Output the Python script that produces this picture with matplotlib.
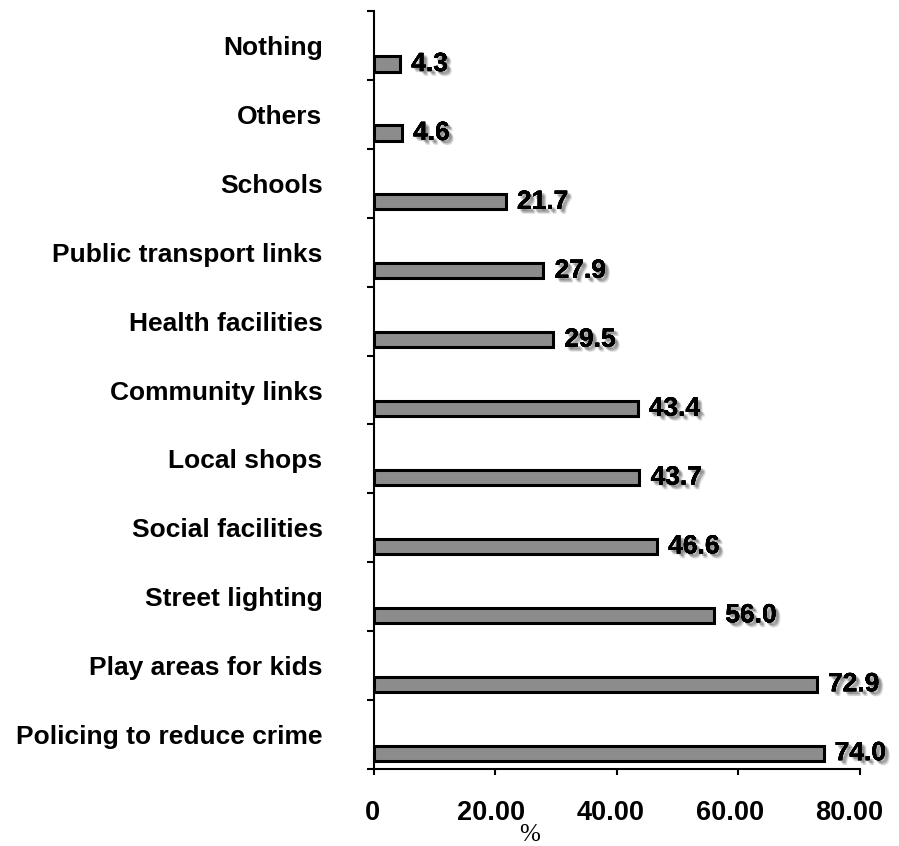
import numpy as np
import matplotlib
matplotlib.use("Agg")
import matplotlib.pyplot as plt
import matplotlib.patheffects as pe
from matplotlib.transforms import ScaledTranslation

# survey results, bottom to top
categories = ["Policing to reduce crime", "Play areas for kids", "Street lighting",
              "Social facilities", "Local shops", "Community links", "Health facilities",
              "Public transport links", "Schools", "Others", "Nothing"]
percent = [74.0, 72.9, 56.0, 46.6, 43.7, 43.4, 29.5, 27.9, 21.7, 4.6, 4.3]
x_ticks = [0, 20, 40, 60, 80]
x_tick_labels = ["0", "20.00", "40.00", "60.00", "80.00"]

plt.rcParams['font.family'] = ['Liberation Sans', 'DejaVu Sans']

fig = plt.figure(figsize=(8.99, 8.46), dpi=100)
ax = fig.add_axes([0.416, 0.091, 0.5406, 0.896])

pos = np.arange(len(categories))
ax.barh(pos - 0.27, percent, height=0.22, color="#8c8c8c",
        edgecolor="black", linewidth=2.2)

# value labels with a soft drop shadow (a few stacked offsets fake the blur)
shadow = [pe.withSimplePatchShadow(offset=(dx, -dy), shadow_rgbFace="0.3", alpha=0.18)
          for dx, dy in [(3.5, 3.5), (2.5, 3.0), (3.0, 2.0), (2.0, 2.0), (1.5, 1.5)]]
shadow.append(pe.Normal())
for y, v in zip(pos, percent):
    ax.annotate(f"{v:.1f}", xy=(v, y - 0.27), xytext=(8, 0), textcoords="offset points",
                ha="left", va="center", fontsize=19, fontweight="bold",
                path_effects=shadow)

ax.set_xlim(0, 80)
ax.set_ylim(-0.5, len(categories) - 0.5)

ax.set_xticks(x_ticks)
ax.set_xticklabels(x_tick_labels, fontsize=19.5, fontweight="bold")
ax.tick_params(axis="x", direction="out", length=4.5, width=1.5, pad=18)
# the tick labels drift a little to the left of their ticks
for tick_val, lbl in zip(x_ticks, ax.get_xticklabels()):
    shift = -(2 + 0.11 * tick_val) / 100
    lbl.set_transform(lbl.get_transform() + ScaledTranslation(shift, 0, fig.dpi_scale_trans))

# category names centred in each band, ticks on the band boundaries
ax.set_yticks(pos)
ax.set_yticklabels(categories, fontsize=19, fontweight="bold")
ax.tick_params(axis="y", which="major", length=0, pad=37)
ax.set_yticks(np.arange(len(categories) + 1) - 0.5, minor=True)
ax.tick_params(axis="y", which="minor", direction="out", length=5, width=1.5)

for side in ["top", "right"]:
    ax.spines[side].set_visible(False)
for side in ["left", "bottom"]:
    ax.spines[side].set_linewidth(1.5)

fig.text(530 / 899, 1 - 835 / 846, "%", family="Liberation Serif",
         fontsize=18, ha="center", va="center")

fig.savefig("out.png", dpi=100)
